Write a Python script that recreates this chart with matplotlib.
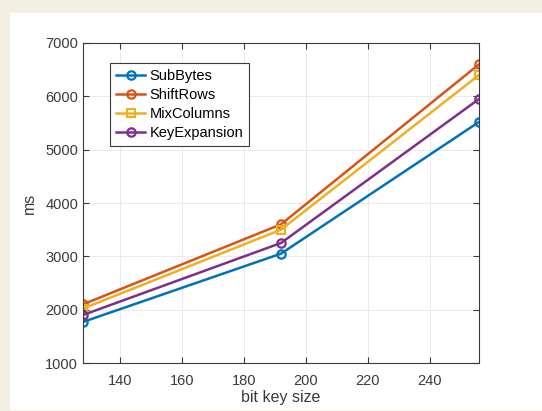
import numpy as np
import matplotlib
matplotlib.use("Agg")
import matplotlib.pyplot as plt
from matplotlib.patches import Rectangle

plt.rcParams['font.family'] = ['Liberation Sans', 'DejaVu Sans']

# data
key_size = [128, 192, 256]
sub_bytes = [1770, 3050, 5520]
shift_rows = [2100, 3600, 6600]
mix_columns = [2020, 3500, 6400]
key_expansion = [1900, 3250, 5950]

names = ["SubBytes", "ShiftRows", "MixColumns", "KeyExpansion"]
series = [sub_bytes, shift_rows, mix_columns, key_expansion]
colors = ["#0072BD", "#D95319", "#EDB120", "#7E2F8E"]
markers = ["o", "o", "s", "o"]

fig = plt.figure(figsize=(5.42, 4.11), dpi=100)
fig.patch.set_facecolor("#f3efe2")
# white panel of the photographed figure
fig.patches.append(Rectangle((10/542, 1/411), 1, 397/411, transform=fig.transFigure,
                             facecolor="white", edgecolor="none", zorder=-5))

ax = fig.add_axes([83/542, 48/411, 396/542, 320/411])
ax.set_zorder(2)
for vals, name, c, m in zip(series, names, colors, markers):
    ax.plot(key_size, vals, "-", marker=m, color=c, lw=1.8, ms=6,
            mfc="none", mew=1.6, label=name)

ax.set_xlim(128, 256)
ax.set_ylim(1000, 7000)
ax.set_xticks([140, 160, 180, 200, 220, 240])
ax.set_yticks(np.arange(1000, 7001, 1000))
ax.grid(color="#e6e6e6", lw=0.6)
ax.tick_params(direction="in", top=True, right=True, labelsize=10.5,
               colors="#3a3a3a", length=4)
ax.tick_params(axis="x", pad=8)
for s in ax.spines.values():
    s.set_color("#3a3a3a")
    s.set_linewidth(0.8)
ax.set_xlabel("bit key size", fontsize=11.5, color="#3a3a3a", labelpad=1)
ax.set_ylabel("ms", fontsize=11.5, color="#3a3a3a", labelpad=6)

leg = ax.legend(loc="upper left", bbox_to_anchor=(0.05, 0.96), fontsize=10.5,
                fancybox=False, edgecolor="#3a3a3a", framealpha=1,
                handlelength=2.0, handletextpad=0.3, borderpad=0.4,
                labelspacing=0.35)
leg.get_frame().set_linewidth(0.8)

fig.savefig("out.png", dpi=100, facecolor=fig.get_facecolor())
